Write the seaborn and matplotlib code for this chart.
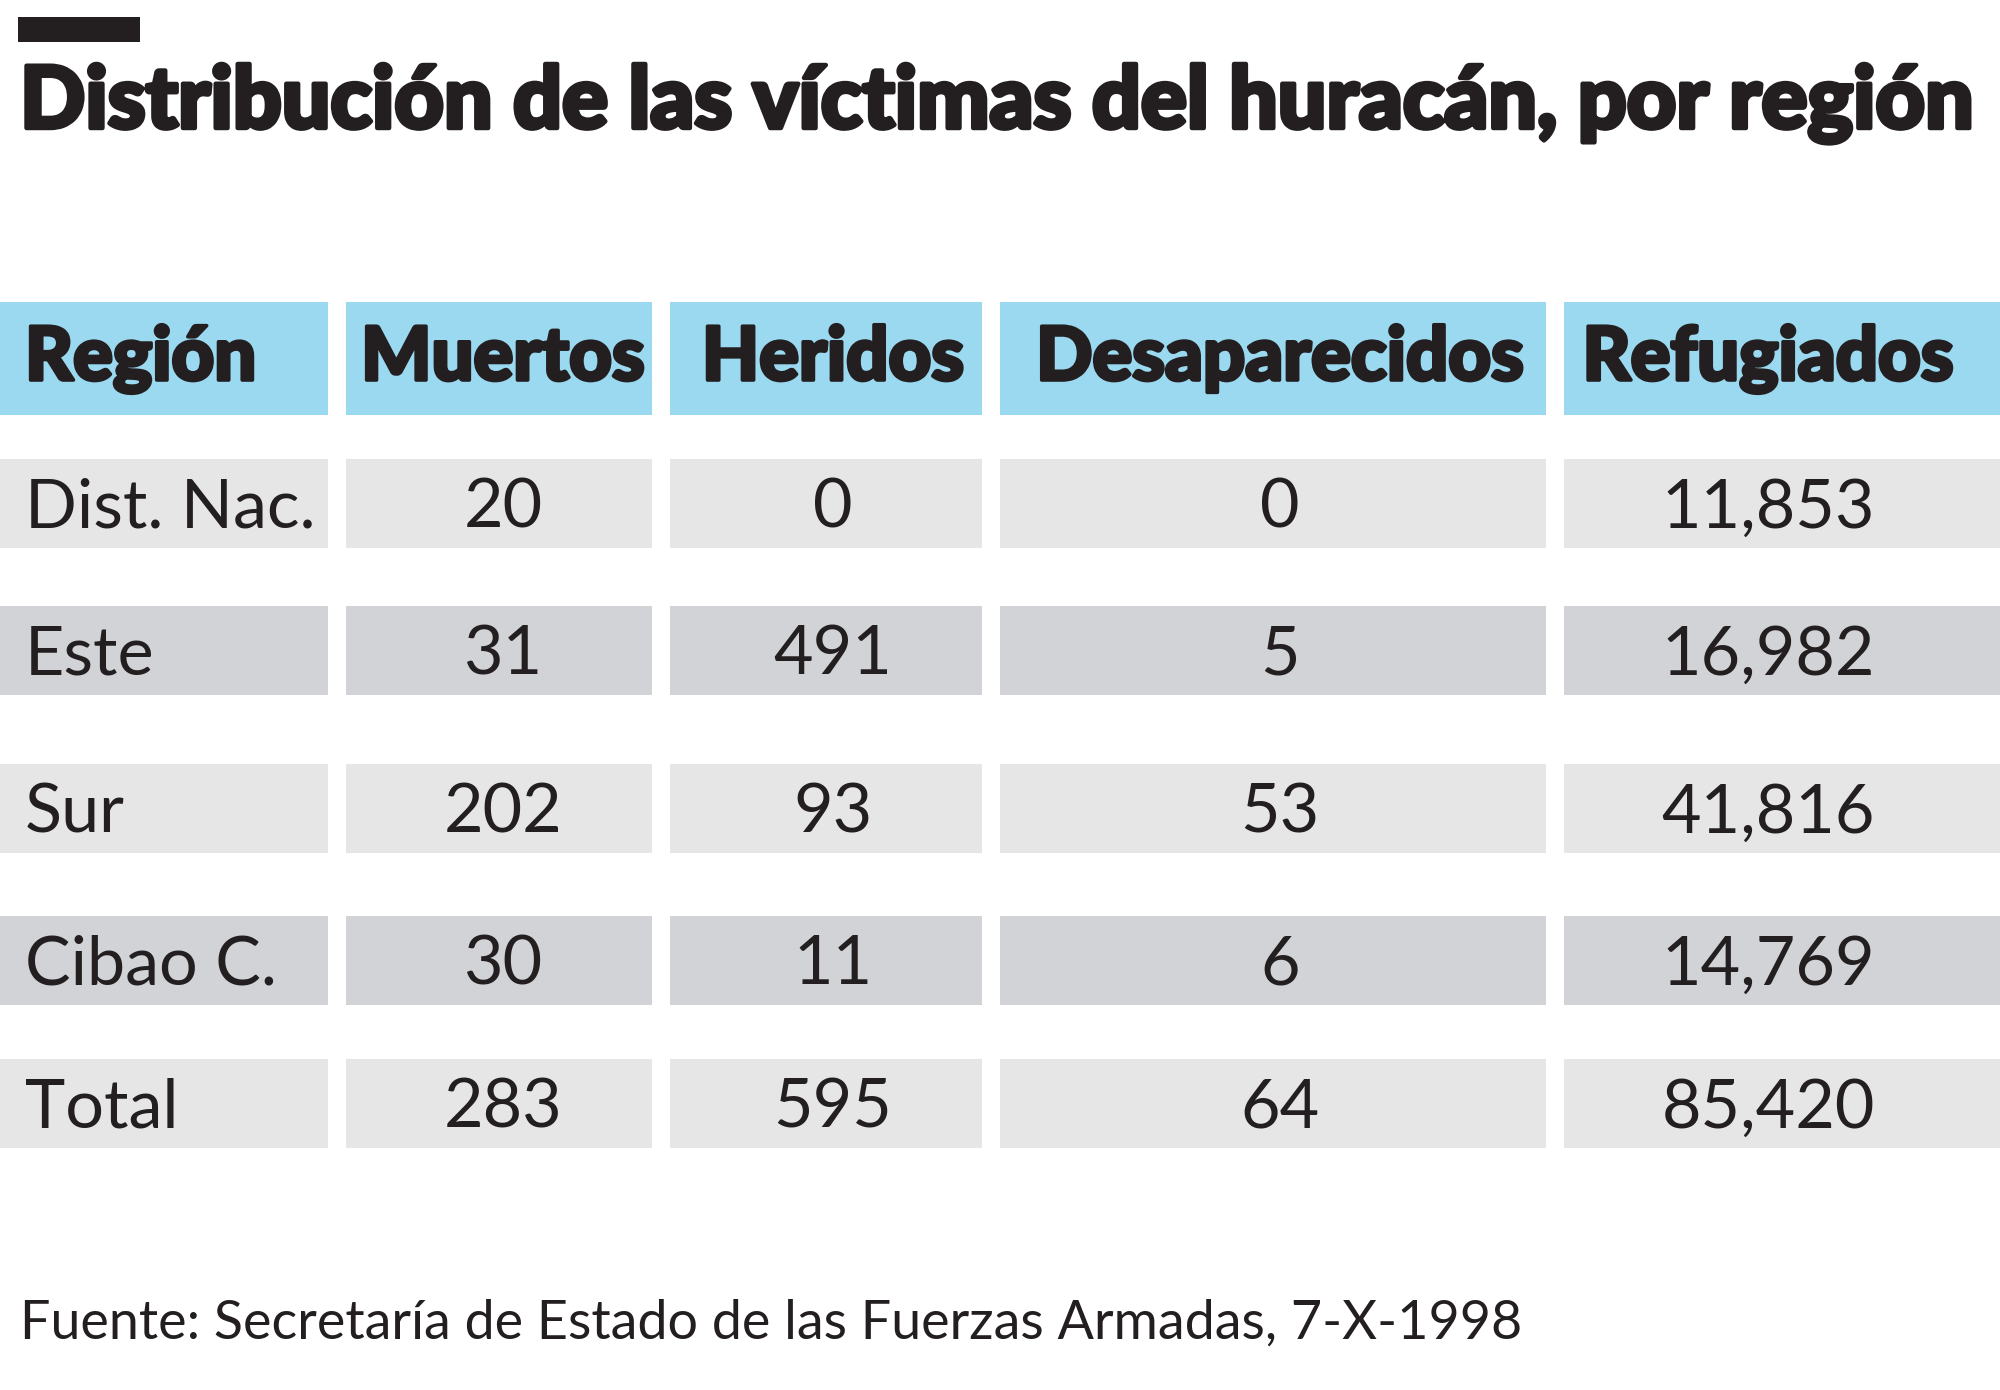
import matplotlib
matplotlib.use("Agg")
import matplotlib.pyplot as plt
from matplotlib.patches import Rectangle
import matplotlib.patheffects as pe
import seaborn as sns

sns.set_theme(style="white")
plt.rcParams['font.family'] = ['Lato', 'DejaVu Sans']

# ---- data ----
title = "Distribución de las víctimas del huracán, por región"
columns = ["Región", "Muertos", "Heridos", "Desaparecidos", "Refugiados"]
regions = ["Dist. Nac.", "Este", "Sur", "Cibao C.", "Total"]
muertos = ["20", "31", "202", "30", "283"]
heridos = ["0", "491", "93", "11", "595"]
desaparecidos = ["0", "5", "53", "6", "64"]
refugiados = ["11,853", "16,982", "41,816", "14,769", "85,420"]
source = "Fuente: Secretaría de Estado de las Fuerzas Armadas, 7-X-1998"

# ---- layout (pixels) ----
W, H = 2000, 1390
col_edges = [(0, 328), (346, 652), (670, 982), (1000, 1546), (1564, 2000)]
col_text_x = [25, 503, 833, 1280, 1768]
header_y = (302, 415)
row_y = [(459, 548), (606, 695), (764, 853), (916, 1005), (1059, 1148)]
row_colors = ["#E6E6E6", "#D1D3D6", "#E6E6E6", "#D1D3D6", "#E6E6E6"]
blue = "#9AD9F0"
ink = "#231F20"

fig = plt.figure(figsize=(W / 100, H / 100), dpi=100)
ax = fig.add_axes([0, 0, 1, 1])
ax.set_xlim(0, W)
ax.set_ylim(H, 0)
ax.axis("off")
renderer = fig.canvas.get_renderer()

heavy = [pe.withStroke(linewidth=3.2, foreground=ink)]


def fit_width(t, target):
    bb = t.get_window_extent(renderer)
    t.set_fontsize(t.get_fontsize() * target / bb.width)


# top black bar
ax.add_patch(Rectangle((18, 17), 122, 25, color=ink, lw=0))

# title
tt = ax.text(20, 128, title, fontsize=60, fontweight="black", color=ink,
             ha="left", va="baseline")
fit_width(tt, 1955)
tt.set_path_effects(heavy)

# header cells
for (x0, x1) in col_edges:
    ax.add_patch(Rectangle((x0, header_y[0]), x1 - x0, header_y[1] - header_y[0],
                           color=blue, lw=0))
header_widths = [236, 288, 265, 499, 383]
hdr_texts = []
for i, name in enumerate(columns):
    ha = "left" if i == 0 else "center"
    t = ax.text(col_text_x[i], 380, name, fontsize=50, fontweight="black",
                color=ink, ha=ha, va="baseline")
    hdr_texts.append(t)
sizes = []
for t, w in zip(hdr_texts, header_widths):
    bb = t.get_window_extent(renderer)
    sizes.append(t.get_fontsize() * w / bb.width)
hs = min(min(sizes), 59)
for t in hdr_texts:
    t.set_fontsize(hs * 0.99)
    t.set_path_effects([pe.withStroke(linewidth=2.6, foreground=ink)])

# body cells
table_cols = [regions, muertos, heridos, desaparecidos, refugiados]
body_texts = []
for r, (y0, y1) in enumerate(row_y):
    for (x0, x1) in col_edges:
        ax.add_patch(Rectangle((x0, y0), x1 - x0, y1 - y0,
                               color=row_colors[r], lw=0))
    base = (y0 + y1) / 2 + 24
    for c, vals in enumerate(table_cols):
        ha = "left" if c == 0 else "center"
        t = ax.text(col_text_x[c], base, vals[r], fontsize=50, color=ink,
                    fontweight="normal", ha=ha, va="baseline")
        body_texts.append(t)
probe = body_texts[0]
bb = probe.get_window_extent(renderer)
bs = min(probe.get_fontsize() * 291 / bb.width, 55)
for t in body_texts:
    t.set_fontsize(bs)

# source
st = ax.text(20, 1339, source, fontsize=40, color=ink, fontweight="normal",
             ha="left", va="baseline")
fit_width(st, 1502)

fig.savefig("out.png", dpi=100, facecolor="white")
